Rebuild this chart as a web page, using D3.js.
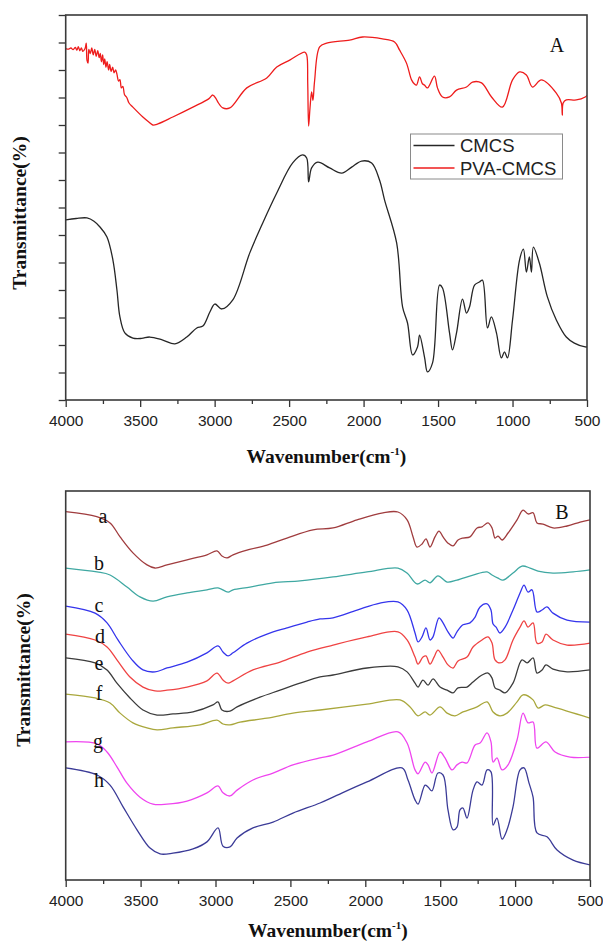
<!DOCTYPE html>
<html>
<head>
<meta charset="utf-8">
<script src="https://cdn.jsdelivr.net/npm/d3@7/dist/d3.min.js"></script>
<style>
  body { margin: 0; background: #fff; }
</style>
</head>
<body>
<svg id="chart" width="603" height="941"></svg>
<script>
// FTIR spectra, wavenumber (cm-1) vs transmittance (arbitrary units)
const d3 = window.d3;

const majorTicks = [4000, 3500, 3000, 2500, 2000, 1500, 1000, 500];
const minorTicks = [3750, 3250, 2750, 2250, 1750, 1250, 750];
const yTicksA = [0, 1, 2, 3, 4, 5, 6, 7, 8, 9, 10, 11, 12, 13, 14];

// panel A
const legendA = ['CMCS', 'PVA-CMCS'];

const cmcs = [
  [4000, 6.55], [3930, 6.6], [3857, 6.62], [3810, 6.5], [3770, 6.29], [3723, 5.93], [3683, 5.09],
  [3656, 4.0], [3636, 3.02], [3603, 2.44], [3549, 2.25], [3490, 2.24], [3436, 2.29], [3348, 2.18],
  [3267, 2.04], [3187, 2.29], [3120, 2.62], [3079, 2.69], [3032, 3.2], [2999, 3.49], [2952, 3.31],
  [2878, 3.64], [2764, 5.35], [2677, 6.44], [2583, 7.53], [2476, 8.62], [2409, 8.91], [2382, 8.8],
  [2369, 7.93], [2349, 8.44], [2308, 8.65], [2228, 8.44], [2147, 8.25], [2080, 8.47], [2013, 8.69],
  [1946, 8.62], [1893, 8.0], [1859, 7.27], [1778, 5.71], [1738, 3.38], [1705, 2.8], [1671, 1.64],
  [1638, 1.93], [1624, 2.36], [1591, 1.56], [1571, 1.02], [1537, 1.35], [1490, 4.18], [1470, 4.07],
  [1423, 2.44], [1403, 1.82], [1376, 2.44], [1336, 3.67], [1309, 3.16], [1289, 3.38], [1255, 4.18],
  [1222, 4.29], [1202, 4.36], [1168, 2.62], [1142, 3.02], [1108, 2.44], [1075, 1.53], [1054, 1.75],
  [1034, 1.53], [1000, 2.91], [953, 5.09], [927, 5.49], [907, 4.65], [887, 5.2], [873, 4.65],
  [860, 5.56], [820, 4.98], [766, 3.75], [706, 2.91], [639, 2.29], [585, 2.07], [512, 1.93], [500, 1.93]
];

const pvaCmcs = [
  [4000, 12.78], [3980, 12.76], [3965, 12.8], [3950, 12.74], [3935, 12.82], [3925, 12.72], [3915, 12.85],
  [3905, 12.7], [3895, 12.8], [3885, 12.68], [3870, 12.78], [3862, 12.98], [3857, 12.35], [3850, 12.25],
  [3845, 12.75], [3835, 12.6], [3825, 12.8], [3815, 12.55], [3805, 12.75], [3795, 12.5], [3785, 12.7],
  [3775, 12.45], [3768, 12.6], [3760, 12.3], [3752, 12.55], [3745, 12.2], [3738, 12.4], [3730, 12.1],
  [3722, 12.3], [3712, 12.0], [3705, 12.2], [3695, 11.95], [3685, 12.1], [3675, 11.9], [3665, 12.0],
  [3656, 11.85], [3645, 11.6], [3636, 11.65], [3626, 11.35], [3616, 11.4], [3605, 11.1], [3590, 11.0],
  [3575, 10.8], [3549, 10.65], [3482, 10.29], [3440, 10.1], [3415, 10.0], [3381, 10.04], [3281, 10.29],
  [3146, 10.65], [3040, 10.95], [3012, 11.09], [2990, 10.95], [2979, 10.84], [2945, 10.62], [2898, 10.62],
  [2784, 11.35], [2650, 11.71], [2583, 12.11], [2496, 12.36], [2395, 12.65], [2382, 12.55], [2375, 11.5],
  [2369, 9.96], [2360, 10.6], [2349, 11.2], [2340, 10.9], [2329, 11.6], [2295, 12.84], [2248, 12.98],
  [2094, 13.09], [2007, 13.2], [1873, 13.13], [1792, 13.02], [1759, 12.73], [1712, 12.25], [1678, 11.64],
  [1660, 11.5], [1645, 11.45], [1624, 11.75], [1605, 11.5], [1591, 11.45], [1571, 11.35], [1524, 11.78],
  [1504, 11.35], [1470, 11.02], [1423, 11.02], [1376, 11.27], [1309, 11.38], [1269, 11.56], [1208, 11.53],
  [1141, 11.02], [1068, 10.65], [1000, 11.64], [953, 11.93], [907, 11.82], [866, 11.38], [806, 11.64],
  [706, 11.16], [672, 10.8], [666, 10.36], [660, 10.8], [639, 10.91], [572, 10.91], [512, 11.02], [500, 11.08]
];

// panel B
const labelsB = ['a', 'b', 'c', 'd', 'e', 'f', 'g', 'h'];

const specA = [
  [4000, 94.7], [3793, 93.4], [3704, 91.8], [3637, 88.2], [3551, 84.1], [3457, 81.0], [3404, 80.2],
  [3324, 81.0], [3190, 82.3], [3057, 83.6], [2990, 84.6], [2957, 83.3], [2923, 82.8], [2883, 83.6],
  [2790, 84.8], [2656, 86.1], [2523, 87.9], [2349, 90.0], [2215, 90.5], [2055, 92.6], [1882, 94.4],
  [1782, 94.6], [1721, 92.6], [1681, 88.2], [1655, 85.6], [1621, 86.4], [1595, 87.7], [1568, 85.6],
  [1535, 88.2], [1508, 89.7], [1481, 88.2], [1448, 86.6], [1414, 85.9], [1381, 87.4], [1348, 87.9],
  [1301, 88.2], [1254, 90.5], [1221, 90.8], [1181, 91.8], [1154, 90.5], [1134, 87.9], [1114, 88.4],
  [1087, 87.4], [1047, 89.2], [987, 92.6], [947, 95.1], [914, 94.1], [880, 94.4], [854, 91.8],
  [814, 91.5], [747, 90.5], [653, 91.0], [566, 92.0], [500, 92.6]
];
const specB = [
  [4000, 80.2], [3791, 79.2], [3704, 78.4], [3591, 75.3], [3504, 72.8], [3417, 71.7], [3324, 72.8],
  [3190, 73.8], [3057, 74.6], [2983, 75.1], [2916, 74.0], [2883, 74.6], [2770, 75.3], [2616, 76.4],
  [2436, 76.9], [2215, 77.9], [1989, 79.2], [1782, 80.2], [1721, 78.9], [1655, 76.1], [1601, 77.1],
  [1568, 76.4], [1515, 78.2], [1454, 76.6], [1388, 77.1], [1281, 78.4], [1187, 79.2], [1154, 78.4],
  [1114, 77.6], [1081, 77.1], [1014, 78.9], [954, 80.7], [900, 80.2], [847, 79.4], [747, 78.9],
  [613, 79.2], [500, 79.7]
];
const specC = [
  [4000, 70.4], [3804, 68.6], [3724, 66.1], [3651, 61.7], [3557, 56.6], [3484, 54.0], [3404, 53.5],
  [3324, 54.5], [3190, 56.0], [3057, 58.4], [2983, 60.2], [2950, 58.6], [2916, 57.6], [2883, 58.4],
  [2790, 60.9], [2656, 63.2], [2523, 64.8], [2389, 66.3], [2302, 67.1], [2215, 67.4], [2055, 69.4],
  [1902, 71.2], [1782, 71.5], [1721, 69.4], [1668, 63.5], [1648, 61.2], [1621, 62.5], [1595, 64.8],
  [1568, 61.7], [1548, 62.5], [1508, 67.4], [1481, 66.1], [1448, 63.8], [1414, 62.2], [1388, 63.8],
  [1348, 65.6], [1301, 66.1], [1267, 67.6], [1234, 70.2], [1187, 71.0], [1161, 69.4], [1147, 65.8],
  [1127, 65.0], [1101, 63.5], [1067, 65.0], [1014, 69.4], [967, 73.8], [940, 75.8], [914, 74.0],
  [887, 74.6], [854, 68.9], [820, 69.4], [787, 70.2], [747, 68.6], [653, 66.8], [500, 66.3]
];
const specD = [
  [4000, 63.2], [3804, 61.7], [3724, 59.9], [3658, 56.6], [3571, 52.2], [3484, 49.6], [3404, 48.6],
  [3324, 48.8], [3190, 49.6], [3057, 51.2], [2990, 53.2], [2950, 51.4], [2916, 50.6], [2883, 51.2],
  [2750, 54.0], [2569, 56.0], [2389, 58.6], [2215, 60.4], [1989, 62.5], [1782, 63.8], [1721, 61.7],
  [1668, 57.3], [1648, 55.5], [1615, 57.3], [1595, 57.6], [1568, 55.5], [1541, 57.3], [1515, 59.1],
  [1481, 57.3], [1448, 55.3], [1414, 54.5], [1381, 56.3], [1321, 57.3], [1281, 59.9], [1221, 61.7],
  [1181, 62.5], [1154, 60.9], [1134, 56.6], [1101, 55.8], [1067, 56.6], [1014, 61.7], [967, 65.0],
  [940, 66.6], [914, 65.0], [880, 66.1], [854, 60.9], [820, 61.2], [794, 63.2], [747, 61.7],
  [653, 60.4], [500, 60.9]
];
const specE = [
  [4000, 57.1], [3804, 55.8], [3724, 54.0], [3658, 50.6], [3571, 46.8], [3484, 43.7], [3390, 42.4],
  [3284, 42.7], [3150, 43.2], [3017, 45.0], [2983, 45.8], [2957, 43.7], [2903, 43.4], [2856, 44.5],
  [2703, 47.0], [2569, 48.8], [2436, 50.6], [2302, 52.2], [2215, 52.7], [1989, 54.5], [1782, 54.8],
  [1721, 53.5], [1668, 50.6], [1648, 49.6], [1615, 51.4], [1581, 50.1], [1548, 51.7], [1501, 49.6],
  [1454, 48.8], [1414, 48.1], [1381, 49.4], [1321, 49.6], [1281, 50.9], [1221, 52.7], [1181, 53.2],
  [1154, 51.9], [1134, 49.4], [1101, 48.8], [1067, 48.1], [1014, 50.6], [954, 56.6], [920, 55.8],
  [880, 57.1], [854, 53.2], [820, 54.0], [794, 55.3], [747, 54.2], [653, 53.5], [500, 54.0]
];
const specF = [
  [4000, 47.8], [3804, 46.8], [3704, 45.5], [3637, 42.9], [3551, 40.4], [3457, 39.1], [3390, 38.6],
  [3284, 39.1], [3103, 39.9], [2990, 41.1], [2950, 40.1], [2903, 39.9], [2836, 40.6], [2656, 41.6],
  [2483, 42.9], [2302, 43.7], [1989, 45.2], [1768, 46.3], [1701, 44.5], [1648, 42.2], [1601, 43.2],
  [1568, 42.4], [1501, 44.5], [1454, 42.9], [1401, 42.2], [1348, 43.2], [1254, 44.5], [1187, 45.8],
  [1147, 43.2], [1101, 42.2], [1054, 42.9], [987, 45.8], [947, 47.6], [880, 46.3], [847, 44.2],
  [800, 45.0], [747, 44.5], [500, 41.6]
];
const specG = [
  [4000, 35.5], [3791, 35.0], [3724, 32.9], [3658, 29.1], [3591, 24.9], [3504, 21.3], [3417, 19.5],
  [3324, 19.5], [3190, 20.3], [3057, 22.4], [2983, 24.2], [2950, 22.4], [2903, 21.6], [2856, 23.1],
  [2750, 25.7], [2616, 27.5], [2483, 29.6], [2302, 31.4], [2215, 32.1], [1989, 35.5], [1782, 38.1],
  [1721, 35.2], [1668, 28.3], [1648, 27.3], [1601, 30.3], [1581, 29.6], [1555, 27.5], [1501, 32.9],
  [1468, 31.4], [1421, 28.3], [1388, 29.6], [1354, 30.3], [1321, 30.1], [1267, 34.7], [1234, 35.2],
  [1187, 37.8], [1161, 35.5], [1147, 30.3], [1121, 31.4], [1087, 28.3], [1047, 29.6], [987, 36.0],
  [947, 42.9], [914, 40.4], [880, 40.6], [854, 33.9], [794, 35.5], [733, 32.9], [633, 31.6], [500, 31.6]
];
const specH = [
  [4000, 28.8], [3791, 27.0], [3704, 24.4], [3617, 18.8], [3524, 12.9], [3437, 8.2], [3370, 6.7],
  [3284, 6.9], [3150, 8.0], [3057, 9.8], [2983, 13.4], [2950, 8.7], [2903, 8.5], [2856, 10.8],
  [2750, 13.4], [2616, 14.9], [2483, 17.2], [2302, 19.8], [2215, 21.3], [1989, 25.2], [1755, 28.8],
  [1715, 25.7], [1668, 20.6], [1648, 19.5], [1601, 24.4], [1581, 23.9], [1555, 22.9], [1515, 27.5],
  [1481, 27.0], [1448, 18.0], [1414, 12.9], [1388, 13.6], [1368, 18.0], [1348, 18.5], [1321, 15.9],
  [1281, 23.1], [1254, 25.2], [1221, 24.4], [1187, 28.3], [1161, 27.8], [1147, 14.1], [1121, 15.9],
  [1087, 10.5], [1054, 12.9], [1014, 18.8], [967, 28.3], [940, 28.8], [907, 24.9], [880, 21.3],
  [854, 12.1], [787, 11.1], [720, 7.7], [613, 5.1], [500, 3.9]
];

const svg = d3.select('#chart');
const serif = '"Liberation Serif", "Times New Roman", serif';
const sans = '"Liberation Sans", Arial, sans-serif';

function drawPanel(cfg) {
  var x = d3.scaleLinear().domain([4000, 500]).range([cfg.left, cfg.right]);
  var y = d3.scaleLinear().domain(cfg.yDomain).range([cfg.bottom, cfg.top]);
  var g = svg.append('g');

  // bottom axis: labelled majors, short minors
  var xAxis = g.append('g')
    .attr('transform', `translate(0, ${cfg.bottom})`)
    .call(d3.axisBottom(x).tickValues(majorTicks).tickSize(7).tickPadding(8).tickFormat(d3.format('d')));
  xAxis.select('.domain').remove();
  xAxis.selectAll('line').attr('stroke', '#333').attr('stroke-width', 1.3);
  xAxis.selectAll('text')
    .attr('fill', '#222')
    .style('font-family', sans)
    .style('font-size', '15.5px');

  var xMinor = g.append('g')
    .attr('transform', `translate(0, ${cfg.bottom})`)
    .call(d3.axisBottom(x).tickValues(minorTicks).tickSize(4).tickFormat(''));
  xMinor.select('.domain').remove();
  xMinor.selectAll('line').attr('stroke', '#333').attr('stroke-width', 1.3);

  if (cfg.yTicks) {
    var yAxis = g.append('g')
      .attr('transform', `translate(${cfg.left}, 0)`)
      .call(d3.axisLeft(y).tickValues(cfg.yTicks).tickSize(7).tickFormat(''));
    yAxis.select('.domain').remove();
    yAxis.selectAll('line').attr('stroke', '#333').attr('stroke-width', 1.3);
  }

  var clipId = 'clip' + cfg.tag;
  g.append('clipPath').attr('id', clipId)
    .append('rect')
    .attr('x', cfg.left).attr('y', cfg.top)
    .attr('width', cfg.right - cfg.left).attr('height', cfg.bottom - cfg.top);

  var line = d3.line()
    .x(d => x(d[0]))
    .y(d => y(d[1]))
    .curve(d3.curveCatmullRom.alpha(0.5));

  g.append('g').attr('clip-path', `url(#${clipId})`)
    .selectAll('path')
    .data(cfg.series)
    .enter()
    .append('path')
    .attr('d', s => line(s.data))
    .attr('fill', 'none')
    .attr('stroke', s => s.color)
    .attr('stroke-width', 1.3)
    .attr('stroke-linejoin', 'round');

  // frame
  g.append('rect')
    .attr('x', cfg.left).attr('y', cfg.top)
    .attr('width', cfg.right - cfg.left).attr('height', cfg.bottom - cfg.top)
    .attr('fill', 'none')
    .attr('stroke', '#3a3a3a')
    .attr('stroke-width', 1.6);

  // panel letter
  g.append('text')
    .attr('x', cfg.tagX).attr('y', cfg.tagY)
    .attr('text-anchor', 'middle')
    .style('font-family', serif)
    .style('font-size', '20px')
    .attr('fill', '#111')
    .text(cfg.tag);

  // axis titles
  var title = g.append('text')
    .attr('x', (cfg.left + cfg.right) / 2)
    .attr('y', cfg.titleY)
    .attr('text-anchor', 'middle')
    .style('font-family', serif)
    .style('font-size', '19.5px')
    .style('font-weight', 'bold')
    .attr('fill', '#111');
  title.append('tspan').text('Wavenumber(cm');
  title.append('tspan').attr('dy', -8).style('font-size', '11px').text('-1');
  title.append('tspan').attr('dy', 8).text(')');

  g.append('text')
    .attr('transform', `translate(${cfg.ylabelX}, ${cfg.ylabelY}) rotate(-90)`)
    .attr('text-anchor', 'middle')
    .style('font-family', serif)
    .style('font-size', '19.5px')
    .style('font-weight', 'bold')
    .attr('fill', '#111')
    .text('Transmittance(%)');

  return { g: g, x: x, y: y };
}

// ---- panel A
var panelA = drawPanel({
  tag: 'A', left: 65.7, right: 587, top: 15, bottom: 400,
  yDomain: [0, 14], yTicks: yTicksA,
  series: [{ data: cmcs, color: '#262626' }, { data: pvaCmcs, color: '#ee1c1c' }],
  tagX: 557, tagY: 52, titleY: 463, ylabelX: 26, ylabelY: 213
});

// legend
var legend = panelA.g.append('g').attr('transform', 'translate(410.5, 134)');
legend.append('rect')
  .attr('width', 152).attr('height', 45)
  .attr('fill', '#fff')
  .attr('stroke', '#8a8a8a')
  .attr('stroke-width', 1);
var legendColors = ['#262626', '#ee1c1c'];
legendA.forEach((name, i) => {
  legend.append('line')
    .attr('x1', 3).attr('x2', 44)
    .attr('y1', 11.5 + i * 22.5).attr('y2', 11.5 + i * 22.5)
    .attr('stroke', legendColors[i]).attr('stroke-width', 1.3);
  legend.append('text')
    .attr('x', 49.5).attr('y', 18 + i * 22.5)
    .style('font-family', sans)
    .style('font-size', '18.5px')
    .attr('fill', '#222')
    .text(name);
});

// ---- panel B
var colorsB = ['#a03c3e', '#3fa8a2', '#3535ec', '#ef4343', '#3c3c3c', '#a9a73c', '#ef45ef', '#3b3b97'];
var specs = [specA, specB, specC, specD, specE, specF, specG, specH];

var panelB = drawPanel({
  tag: 'B', left: 65.7, right: 590, top: 491, bottom: 880,
  yDomain: [0, 100], yTicks: null,
  series: specs.map((s, i) => ({ data: s, color: colorsB[i] })),
  tagX: 562, tagY: 519, titleY: 937, ylabelX: 30, ylabelY: 670
});

// curve labels a-h
var labelPos = [[103, 523], [99, 570], [99, 612], [100, 643], [99, 670], [99, 700], [98, 748], [99, 787]];
panelB.g.selectAll('.curve-label')
  .data(labelsB)
  .enter()
  .append('text')
  .attr('class', 'curve-label')
  .attr('x', (d, i) => labelPos[i][0])
  .attr('y', (d, i) => labelPos[i][1])
  .attr('text-anchor', 'middle')
  .style('font-family', serif)
  .style('font-size', '20px')
  .attr('fill', '#111')
  .text(d => d);
</script>
</body>
</html>
